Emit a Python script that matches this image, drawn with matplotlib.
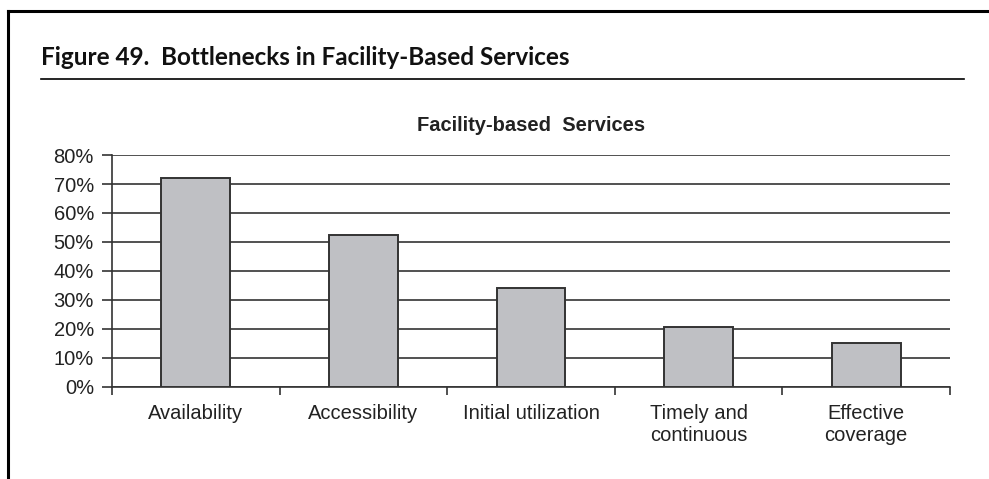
import matplotlib
matplotlib.use("Agg")
import matplotlib.pyplot as plt
from matplotlib.lines import Line2D
from matplotlib.ticker import PercentFormatter

# Bottleneck analysis values (share of target population reached)
categories = ["Availability", "Accessibility", "Initial utilization",
              "Timely and\ncontinuous", "Effective\ncoverage"]
values = [72, 52.5, 34, 20.7, 15.3]
y_ticks = [0, 10, 20, 30, 40, 50, 60, 70, 80]

plt.rcParams["font.family"] = ["Liberation Sans", "DejaVu Sans"]

fig = plt.figure(figsize=(9.89, 4.79), dpi=100)
ax = fig.add_axes([0.1132, 0.1921, 0.8474, 0.4843])

x = range(len(categories))
ax.bar(x, values, width=0.41, color="#bfc0c4", edgecolor="#333333",
       linewidth=1.4, zorder=3)

ax.set_xlim(-0.5, len(categories) - 0.5)
ax.set_ylim(0, 80)
ax.set_yticks(y_ticks)
ax.yaxis.set_major_formatter(PercentFormatter(decimals=0))
ax.yaxis.grid(True, color="#333333", linewidth=1.2, zorder=0)
ax.set_axisbelow(True)

# category ticks sit between the bars
ax.set_xticks([i - 0.5 for i in range(len(categories) + 1)], minor=False)
ax.set_xticklabels([])
ax.set_xticks(list(x), minor=True)
ax.set_xticklabels(categories, minor=True, fontsize=14.5, color="#222222")
ax.tick_params(axis="x", which="major", length=6, width=1.2, color="#333333")
ax.tick_params(axis="x", which="minor", length=0, pad=12.5)
ax.tick_params(axis="y", length=7, width=1.2, color="#333333", pad=6,
               labelsize=14.5, labelcolor="#222222")

for side in ["top", "right"]:
    ax.spines[side].set_visible(False)
for side in ["left", "bottom"]:
    ax.spines[side].set_color("#333333")
    ax.spines[side].set_linewidth(1.2)

ax.set_title("Facility-based  Services", fontsize=14.5, fontweight="bold",
             color="#222222", pad=17)

# page frame: heavy rule on top and left edge
fig.add_artist(Line2D([0.0085, 1.0], [0.9775, 0.9775], color="black",
                      linewidth=2.2, transform=fig.transFigure))
fig.add_artist(Line2D([0.0085, 0.0085], [0.0, 0.9775], color="black",
                      linewidth=2.2, transform=fig.transFigure))

fig.text(0.0415, 0.864, "Figure 49.  Bottlenecks in Facility-Based Services",
         family=["Lato", "DejaVu Sans"], fontweight="bold",
         fontsize=17.5, color="#111111", va="baseline", ha="left")
fig.add_artist(Line2D([0.0415, 0.975], [0.835, 0.835], color="black",
                      linewidth=1.2, transform=fig.transFigure))

fig.savefig("out.png", dpi=100)
